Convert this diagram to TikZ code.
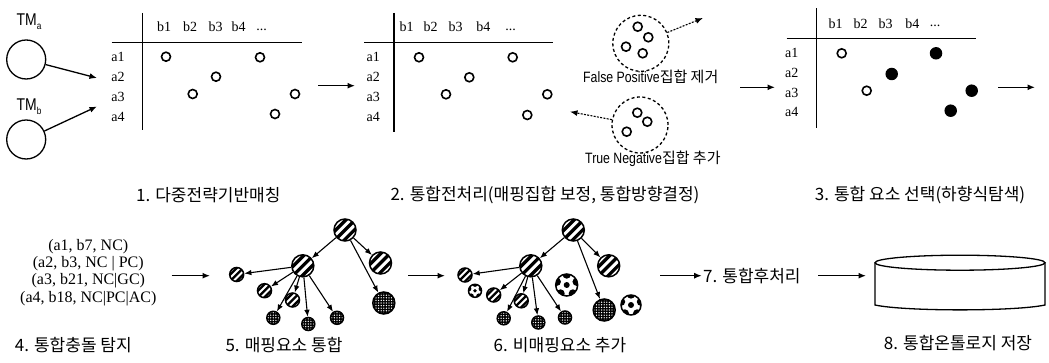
\documentclass[tikz,border=0pt]{standalone}
\usepackage{fontspec}
\setmainfont{Liberation Serif}
\newfontfamily\kr{Noto Sans CJK KR}
\newfontfamily\nsans{Liberation Sans}[FakeStretch=0.82]
\usetikzlibrary{arrows.meta}
\tikzset{
  arr/.style={line width=1.3pt,-{Latex[length=7.5pt,width=6pt]}},
  darr/.style={line width=1.1pt,dash pattern=on 2pt off 1.3pt,-{Latex[length=7.5pt,width=6pt]}},
  tarr/.style={line width=1.1pt,-{Latex[length=7pt,width=5.5pt]}},
  axisline/.style={line width=1.3pt},
  lbl/.style={font=\fontsize{14}{14}\selectfont,inner sep=0pt},
  odot/.style={circle,draw,line width=1.6pt,minimum size=9pt,inner sep=0pt},
  fdot/.style={circle,fill,minimum size=12.5pt,inner sep=0pt},
  captxt/.style={font=\kr\fontsize{17}{17}\selectfont,inner sep=0pt},
  dcirc/.style={circle,draw,line width=1.3pt,dash pattern=on 3pt off 2.5pt,minimum size=56pt,inner sep=0pt},
  tmcirc/.style={circle,draw,line width=1.3pt,minimum size=39pt,inner sep=0pt},
  tn/.style={circle,draw,line width=1.5pt,inner sep=0pt},
  bigsz/.style={minimum size=22pt},
  smallsz/.style={minimum size=14pt},
  xssz/.style={minimum size=13pt},
  stripeA/.style={path picture={
    \foreach \k in {-4,...,4}{
      \draw[line width=3.3pt] ([shift={(-45:\k*6.6pt)}]path picture bounding box.center) +(-20pt,-20pt) -- +(20pt,20pt);}}},
  stripeB/.style={path picture={
    \foreach \k in {-4,...,4}{
      \draw[line width=2.3pt] ([shift={(-45:\k*4.6pt)}]path picture bounding box.center) +(-14pt,-14pt) -- +(14pt,14pt);}}},
  xh/.style={path picture={
    \fill[black] (path picture bounding box.south west) rectangle (path picture bounding box.north east);
    \foreach \i in {-4,...,4}{\foreach \j in {-4,...,4}{
      \fill[white] ([shift={(\i*2.6pt,\j*2.6pt)}]path picture bounding box.center) circle[radius=0.72pt];}}}},
  socA/.style={path picture={
    \fill (path picture bounding box.center) circle[radius=3pt];
    \foreach \a in {90,162,234,306,378}{
      \fill ([shift={(\a:10.5pt)}]path picture bounding box.center) circle[radius=4.2pt];}}},
  socB/.style={path picture={
    \fill (path picture bounding box.center) circle[radius=1.9pt];
    \foreach \a in {90,162,234,306,378}{
      \fill ([shift={(\a:6.6pt)}]path picture bounding box.center) circle[radius=2.7pt];}}},
}
\begin{document}
\begin{tikzpicture}[x=1pt,y=-1pt]
\useasboundingbox[fill=white] (0,0) rectangle (1049,363);

% ---- stage 1: TM circles and matrix 1
\node[inner sep=0pt,font=\nsans\fontsize{17}{17}\selectfont] (tmal) at (29,22) {TM\raisebox{-4pt}{\fontsize{10}{10}\selectfont a}};
\node[inner sep=0pt,font=\nsans\fontsize{17}{17}\selectfont] (tmbl) at (29,107) {TM\raisebox{-4pt}{\fontsize{10}{10}\selectfont b}};
\node[tmcirc] (tma) at (26.2,59.5) {};
\node[tmcirc] (tmb) at (26.2,139.5) {};
\coordinate (m1inA) at (97,78);
\coordinate (m1inB) at (97,106.5);
\draw[arr] (tma) -- (m1inA);
\draw[arr] (tmb) -- (m1inB);

\draw[axisline] (142.7,13) -- (142.7,130);
\draw[axisline] (111.7,42.3) -- (301.7,42.3);
\node[lbl] (m1b1) at (164,26.7) {b1};
\node[lbl] (m1b2) at (190,26.7) {b2};
\node[lbl] (m1b3) at (215.5,26.7) {b3};
\node[lbl] (m1b4) at (238.5,26.7) {b4};
\node[lbl] (m1bx) at (261.7,29.5) {...};
\node[lbl] (m1a1) at (118,56.7) {a1};
\node[lbl] (m1a2) at (118,76.7) {a2};
\node[lbl] (m1a3) at (118,96.7) {a3};
\node[lbl] (m1a4) at (118,116.7) {a4};
\node[odot] (m1d1) at (166,56.7) {};
\node[odot] (m1d2) at (260,57.3) {};
\node[odot] (m1d3) at (216,76.7) {};
\node[odot] (m1d4) at (192.7,94) {};
\node[odot] (m1d5) at (295,94) {};
\node[odot] (m1d6) at (275,114) {};

\coordinate (a12s) at (318,85.7);
\coordinate (a12e) at (355,85.7);
\draw[arr] (a12s) -- (a12e);

% ---- matrix 2
\draw[axisline] (394,13) -- (394,131.7);
\draw[axisline] (364,42.3) -- (553.3,42.3);
\node[lbl] (m2b1) at (406.7,26.7) {b1};
\node[lbl] (m2b2) at (430.7,26.7) {b2};
\node[lbl] (m2b3) at (455.7,26.7) {b3};
\node[lbl] (m2b4) at (483.3,26.7) {b4};
\node[lbl] (m2bx) at (510.7,29.5) {...};
\node[lbl] (m2a1) at (373.3,57.3) {a1};
\node[lbl] (m2a2) at (373.3,77.3) {a2};
\node[lbl] (m2a3) at (373.3,97.3) {a3};
\node[lbl] (m2a4) at (373.3,116.7) {a4};
\node[odot] (m2d1) at (419,57.3) {};
\node[odot] (m2d2) at (512.7,57.3) {};
\node[odot] (m2d3) at (469.3,77.3) {};
\node[odot] (m2d4) at (446,94.3) {};
\node[odot] (m2d5) at (547.3,94.3) {};
\node[odot] (m2d6) at (527.3,115) {};

% ---- dashed sets
\node[dcirc] (fpc) at (640.8,43.3) {};
\node[odot] (fp1) at (637.7,26.7) {};
\node[odot] (fp2) at (648.3,37.3) {};
\node[odot] (fp3) at (626,46.7) {};
\node[odot] (fp4) at (642.7,53.3) {};
\coordinate (fpend) at (703,18);
\draw[darr] (fpc) -- (fpend);
\node[anchor=west,inner sep=0pt] (fpt) at (583,77) {\nsans\fontsize{15}{15}\selectfont False Positive\kr\fontsize{15}{15}\selectfont 집합 제거};

\node[dcirc] (tnc) at (640,125) {};
\node[odot] (tn1) at (637.3,112.7) {};
\node[odot] (tn2) at (647.3,121.7) {};
\node[odot] (tn3) at (626.7,131.7) {};
\coordinate (tnend) at (570,111.7);
\draw[darr] (tnc) -- (tnend);
\node[anchor=west,inner sep=0pt] (tnt) at (585,158.5) {\nsans\fontsize{15}{15}\selectfont True Negative\kr\fontsize{15}{15}\selectfont 집합 추가};

\coordinate (a23s) at (740,87.3);
\coordinate (a23e) at (775,87.3);
\draw[arr] (a23s) -- (a23e);

% ---- matrix 3
\draw[axisline] (816.7,8.3) -- (816.7,128.3);
\draw[axisline] (786.7,38.3) -- (976,38.3);
\node[lbl] (m3b1) at (835.7,23.3) {b1};
\node[lbl] (m3b2) at (860.7,23.3) {b2};
\node[lbl] (m3b3) at (885.7,23.3) {b3};
\node[lbl] (m3b4) at (912.3,23.3) {b4};
\node[lbl] (m3bx) at (935,26.1) {...};
\node[lbl] (m3a1) at (791.7,53.3) {a1};
\node[lbl] (m3a2) at (791.7,73.3) {a2};
\node[lbl] (m3a3) at (791.7,92.7) {a3};
\node[lbl] (m3a4) at (791.7,111.7) {a4};
\node[odot] (m3d1) at (841.7,53.3) {};
\node[fdot] (m3d2) at (936,53.3) {};
\node[fdot] (m3d3) at (891.7,74) {};
\node[odot] (m3d4) at (866.7,90.7) {};
\node[fdot] (m3d5) at (971.7,90.7) {};
\node[fdot] (m3d6) at (950.7,110.7) {};
\coordinate (a3xs) at (998.3,87.3);
\coordinate (a3xe) at (1035,87.3);
\draw[arr] (a3xs) -- (a3xe);

% ---- captions top row
\node[captxt] (cap1) at (208.3,195) {1. 다중전략기반매칭};
\node[captxt] (cap2) at (545,195) {2. 통합전처리(매핑집합 보정, 통합방향결정)};
\node[captxt] (cap3) at (920,195) {3. 통합 요소 선택(하향식탐색)};

% ---- stage 4
\node[inner sep=0pt,align=center,font=\fontsize{16}{17.2}\selectfont] (tup) at (88.3,272.5)
  {(a1, b7, NC)\\(a2, b3, NC | PC)\\(a3, b21, NC|GC)\\(a4, b18, NC|PC|AC)};
\coordinate (a45s) at (171.7,275.7);
\coordinate (a45e) at (210,275.7);
\draw[arr] (a45s) -- (a45e);

% ---- tree 5
\node[tn,bigsz,stripeA] (r5) at (345,230) {};
\node[tn,bigsz,stripeA] (m5) at (302.8,265.8) {};
\node[tn,bigsz,stripeA] (s5) at (380.5,263) {};
\node[tn,bigsz,xh] (x5) at (383.8,303) {};
\node[tn,smallsz,stripeB] (l5) at (236.7,274.5) {};
\node[tn,smallsz,stripeB] (p5) at (264.5,290.7) {};
\node[tn,smallsz,stripeB] (q5) at (292.5,300) {};
\node[tn,xssz,xh] (c5a) at (273.3,317.8) {};
\node[tn,xssz,xh] (c5b) at (308.3,324) {};
\node[tn,xssz,xh] (c5c) at (337,317.8) {};
\foreach \t in {m5,s5,x5} \draw[tarr] (r5) -- (\t);
\foreach \t in {l5,p5,q5,c5a,c5b,c5c} \draw[tarr] (m5) -- (\t);

\coordinate (a56s) at (408.3,275.7);
\coordinate (a56e) at (445,275.7);
\draw[arr] (a56s) -- (a56e);

% ---- tree 6
\node[tn,bigsz,stripeA] (r6) at (573.3,230) {};
\node[tn,bigsz,stripeA] (m6) at (530.8,265.8) {};
\node[tn,bigsz,stripeA] (s6) at (608.7,265.8) {};
\node[tn,bigsz,xh] (x6) at (604.2,310) {};
\node[tn,smallsz,stripeB] (l6) at (465,275) {};
\node[tn,smallsz,stripeB] (p6) at (493.7,295) {};
\node[tn,smallsz,stripeB] (q6) at (521.2,300.8) {};
\node[tn,xssz,xh] (c6a) at (503.7,318.3) {};
\node[tn,xssz,xh] (c6b) at (538.3,322.5) {};
\node[tn,xssz,xh] (c6c) at (565,317.5) {};
\node[tn,xssz,socB] (b6a) at (475,290.8) {};
\node[tn,bigsz,socA] (b6b) at (566.7,285) {};
\node[tn,minimum size=20pt,socA] (b6c) at (631,305) {};
\foreach \t in {m6,s6,x6} \draw[tarr] (r6) -- (\t);
\foreach \t in {l6,p6,q6,c6a,c6b,c6c} \draw[tarr] (m6) -- (\t);

\coordinate (a67s) at (660,275.7);
\coordinate (a67e) at (701.7,275.7);
\draw[arr] (a67s) -- (a67e);

\node[captxt,anchor=west] (cap7) at (703,275.7) {7. 통합후처리};
\coordinate (a78s) at (818.3,275.7);
\coordinate (a78e) at (866,275.7);
\draw[arr] (a78s) -- (a78e);

% ---- cylinder
\draw[line width=1.3pt] (875,262.7) -- (875,305) .. controls (905,311.5) and (1015,311.5) .. (1045,305) -- (1045,262.7);
\draw[line width=1.3pt] (960,262.7) ellipse [x radius=85pt,y radius=7.5pt];

% ---- bottom captions
\node[captxt] (cap4) at (73.3,345) {4. 통합충돌 탐지};
\node[captxt] (cap5) at (284,345) {5. 매핑요소 통합};
\node[captxt] (cap6) at (560,345) {6. 비매핑요소 추가};
\node[captxt] (cap8) at (958,343.3) {8. 통합온톨로지 저장};
\end{tikzpicture}
\end{document}
